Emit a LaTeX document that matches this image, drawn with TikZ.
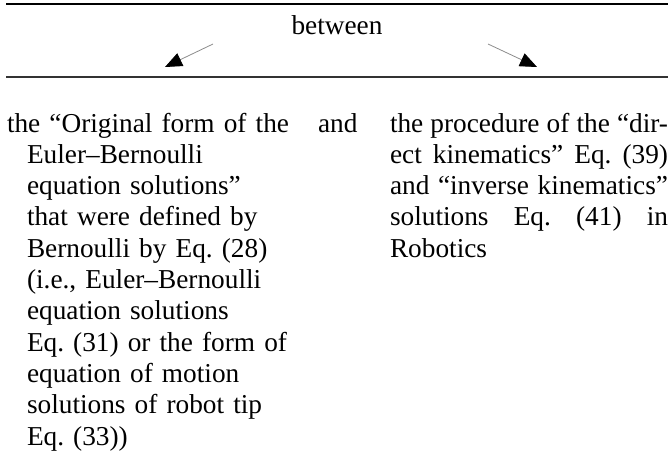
\documentclass[tikz,border=0pt]{standalone}
\usepackage{fontspec}
\setmainfont{Liberation Serif}
\usetikzlibrary{arrows.meta}
\frenchspacing
\begin{document}
\begin{tikzpicture}[x=1pt,y=-1pt,
  txt/.style={inner sep=0pt, outer sep=0pt, anchor=base west, font=\fontsize{27.3}{31.3}\selectfont\frenchspacing},
  toprule/.style={line width=1.3pt, black},
  midrule/.style={line width=2pt, black!80},
  arr/.style={draw=black!45, line width=0.8pt, -{Triangle[length=17pt,width=14pt,black]}}]
\useasboundingbox (0,0) rectangle (668,457);
% rules
\coordinate (r1l) at (6,4);
\coordinate (r1r) at (668,4);
\coordinate (r2l) at (6,77);
\coordinate (r2r) at (668,77);
\draw[toprule] (r1l) -- (r1r);
\draw[midrule] (r2l) -- (r2r);
% between
\node[txt, anchor=base] (between) at (337,35) {between};
\coordinate (las) at (213,44);
\coordinate (lat) at (165,67);
\coordinate (ras) at (488,44);
\coordinate (rat) at (537,67);
\draw[arr] (las) -- (lat);
\draw[arr] (ras) -- (rat);
% left column
\node[txt, text width=320pt, align=left] (left) at (7,132) {the “Original form of the\\
\hspace*{20pt}Euler–Bernoulli\\
\hspace*{20pt}equation solutions”\\
\hspace*{20pt}that were defined by\\
\hspace*{20pt}Bernoulli by Eq. (28)\\
\hspace*{20pt}(i.e., Euler–Bernoulli\\
\hspace*{20pt}equation solutions\\
\hspace*{20pt}Eq. (31) or the form of\\
\hspace*{20pt}equation of motion\\
\hspace*{20pt}solutions of robot tip\\
\hspace*{20pt}Eq. (33))};
% and
\node[txt] (and) at (318,132) {and};
% right column
\node[txt, text width=278pt, align=justify] (right) at (390,132) {the procedure of the “dir-\linebreak
ect kinematics” Eq. (39)\linebreak
and “inverse kinematics”\linebreak
solutions Eq. (41) in\linebreak
Robotics};
\end{tikzpicture}
\end{document}
